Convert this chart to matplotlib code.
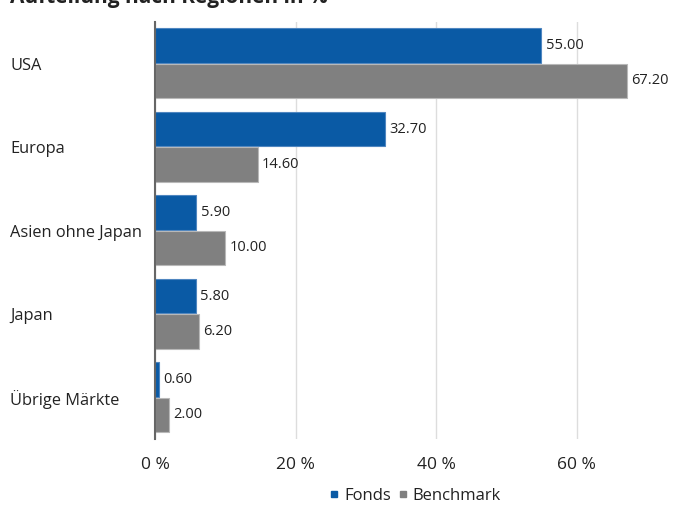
import matplotlib
matplotlib.use("Agg")
import matplotlib.pyplot as plt
import numpy as np
from matplotlib.lines import Line2D

plt.rcParams['font.family'] = ['Open Sans', 'DejaVu Sans']

categories = ["USA", "Europa", "Asien ohne Japan", "Japan", "Übrige Märkte"]
fonds = [55.00, 32.70, 5.90, 5.80, 0.60]
benchmark = [67.20, 14.60, 10.00, 6.20, 2.00]
xticks = [0, 20, 40, 60]
title = "Aufteilung nach Regionen in %"

c_fonds = "#0a5aa5"
c_bench = "#808080"

fig = plt.figure(figsize=(6.75, 5.05), dpi=100)
ax = fig.add_axes([155/675, 1 - 439/505, (675-155)/675, 417.5/505])

y = np.arange(len(categories))
h = 0.415
ax.barh(y - h/2 - 0.004, fonds, height=h, color=c_fonds, edgecolor='#4f86c0', linewidth=0.8, zorder=3)
ax.barh(y + h/2 + 0.004, benchmark, height=h, color=c_bench, edgecolor='#b8b8b8', linewidth=0.8, zorder=3)

for i, (f, b) in enumerate(zip(fonds, benchmark)):
    ax.text(f + 0.6, y[i] - h/2, f"{f:.2f}", va='center', ha='left', fontsize=10.5, color='#222222')
    ax.text(b + 0.6, y[i] + h/2, f"{b:.2f}", va='center', ha='left', fontsize=10.5, color='#222222')

ax.set_ylim(len(categories) - 0.5, -0.5)
ax.set_xlim(0, 74)
ax.set_xticks(xticks)
ax.set_xticklabels([f"{t} %" for t in xticks], fontsize=12.5, color='#222222')
ax.set_yticks(y)
ax.set_yticklabels([])
for i, c in enumerate(categories):
    ax.text(-145/7.03, y[i] + 0.03, c, ha='left', va='center', fontsize=11.8, color='#222222')

ax.tick_params(axis='both', length=0)
ax.tick_params(axis='x', pad=13)
for s in ['top', 'right', 'bottom']:
    ax.spines[s].set_visible(False)
ax.spines['left'].set_color('#666666')
ax.spines['left'].set_linewidth(1.5)
ax.spines['left'].set_zorder(4)
ax.grid(axis='x', color='#dddddd', linewidth=1, zorder=0)
ax.set_axisbelow(True)

handles = [Line2D([], [], marker='s', linestyle='', color=c_fonds, markersize=4),
           Line2D([], [], marker='s', linestyle='', color=c_bench, markersize=4)]
fig.legend(handles, ["Fonds", "Benchmark"], loc='center', bbox_to_anchor=(415/675, 1 - 496/505),
           ncol=2, frameon=False, fontsize=12, handlelength=0.6, handletextpad=0.3, columnspacing=0.4,
           labelcolor='#222222')

fig.text(10/675, 1 - 2.5/505, title, ha='left', va='baseline', fontsize=15, fontweight='bold', color='#222222')

fig.savefig("out.png", dpi=100)
